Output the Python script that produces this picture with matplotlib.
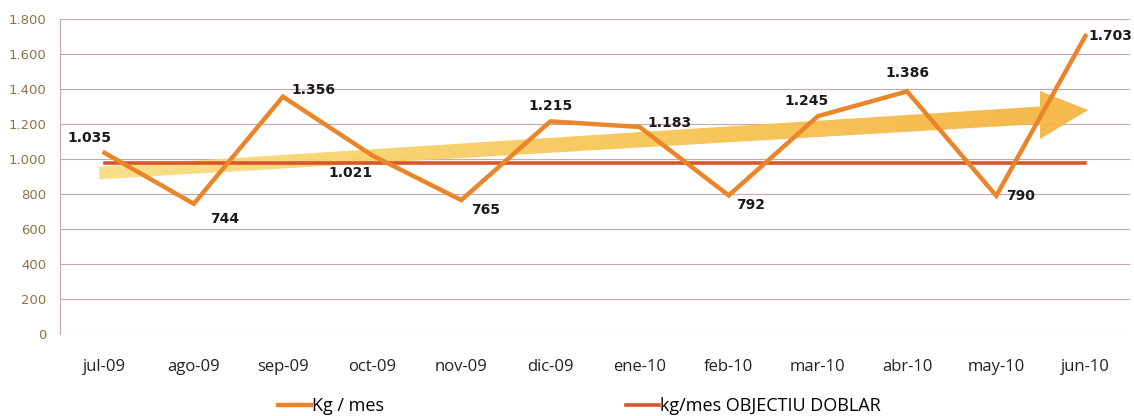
import matplotlib
matplotlib.use("Agg")
import matplotlib.pyplot as plt
import numpy as np
from matplotlib.patches import Polygon
from matplotlib.colors import LinearSegmentedColormap

months = ["jul-09", "ago-09", "sep-09", "oct-09", "nov-09", "dic-09",
          "ene-10", "feb-10", "mar-10", "abr-10", "may-10", "jun-10"]
kg_mes = [1035, 744, 1356, 1021, 765, 1215, 1183, 792, 1245, 1386, 790, 1703]
objectiu = [975] * 12
value_labels = ["1.035", "744", "1.356", "1.021", "765", "1.215",
                "1.183", "792", "1.245", "1.386", "790", "1.703"]
yticks = [0, 200, 400, 600, 800, 1000, 1200, 1400, 1600, 1800]
ytick_labels = ["0", "200", "400", "600", "800", "1.000", "1.200", "1.400", "1.600", "1.800"]

# label offsets in points (dx, dy, ha, va)
label_pos = [(5, 6, "right", "bottom"), (12, -6, "left", "top"), (6, 0, "left", "bottom"),
             (0, -8, "right", "top"), (7, -2, "left", "top"), (0, 6, "center", "bottom"),
             (6, -2, "left", "bottom"), (5, -2, "left", "top"), (-8, 6, "center", "bottom"),
             (0, 8, "center", "bottom"), (7, 0, "left", "center"), (2, 0, "left", "center")]

plt.rcParams['font.family'] = ['Open Sans', 'DejaVu Sans']

fig = plt.figure(figsize=(11.34, 4.16), dpi=100)
ax = fig.add_axes([60/1134, 1 - 334/416, 1070/1134, 315/416])
x = np.arange(len(months))

# trend arrow (decoration), drawn with a gradient fill
arrow_pts = [(-0.06, 884), (10.49, 1200), (10.49, 1114), (11.03, 1280),
             (10.49, 1388), (10.49, 1300), (-0.06, 956)]
arrow = Polygon(arrow_pts, closed=True, facecolor="none", edgecolor="none", zorder=1)
ax.add_patch(arrow)
cmap = LinearSegmentedColormap.from_list("arr", ["#FADF86", "#F7C85A", "#F5B441"])
grad = np.linspace(0, 1, 256).reshape(1, -1)
im = ax.imshow(grad, cmap=cmap, extent=[-0.1, 11.1, 850, 1400], aspect="auto",
               zorder=1, alpha=0.95)
im.set_clip_path(arrow)

l2, = ax.plot(x, objectiu, color="#D9552B", lw=2.6, zorder=2)
l1, = ax.plot(x, kg_mes, color="#EA8529", lw=3.2, zorder=3, solid_joinstyle="miter")

for i, (v, t) in enumerate(zip(kg_mes, value_labels)):
    dx, dy, ha, va = label_pos[i]
    ax.annotate(t, (i, v), xytext=(dx, dy), textcoords="offset points",
                ha=ha, va=va, fontsize=10, fontweight="bold", color="#1a1a1a",
                family=["DejaVu Sans"], zorder=4)

ax.set_xlim(-0.5, 11.5)
ax.set_ylim(0, 1800)
ax.set_yticks(yticks)
ax.set_yticklabels(ytick_labels, color="#8C7548", fontsize=9.5, family=["DejaVu Sans"])
ax.set_xticks(x)
ax.set_xticklabels(months, fontsize=12, color="#222222")
ax.tick_params(axis="both", length=0)
ax.tick_params(axis="x", pad=18)
ax.tick_params(axis="y", pad=10)
ax.grid(axis="y", color="#C7A6AE", lw=0.8)
ax.set_axisbelow(True)
for s in ["top", "right", "bottom"]:
    ax.spines[s].set_visible(False)
ax.spines["left"].set_color("#C7A6AE")
ax.spines["left"].set_linewidth(0.8)

leg_y = 1 - 406/416
fig.legend([l1], ["Kg / mes"], loc="center left", bbox_to_anchor=(278/1134, leg_y),
           frameon=False, fontsize=13, handlelength=1.8, handletextpad=0.1,
           borderpad=0, borderaxespad=0)
fig.legend([l2], ["kg/mes OBJECTIU DOBLAR"], loc="center left",
           bbox_to_anchor=(626/1134, leg_y), frameon=False, fontsize=13,
           handlelength=1.8, handletextpad=0.1, borderpad=0, borderaxespad=0)

fig.savefig("out.png", dpi=100)
